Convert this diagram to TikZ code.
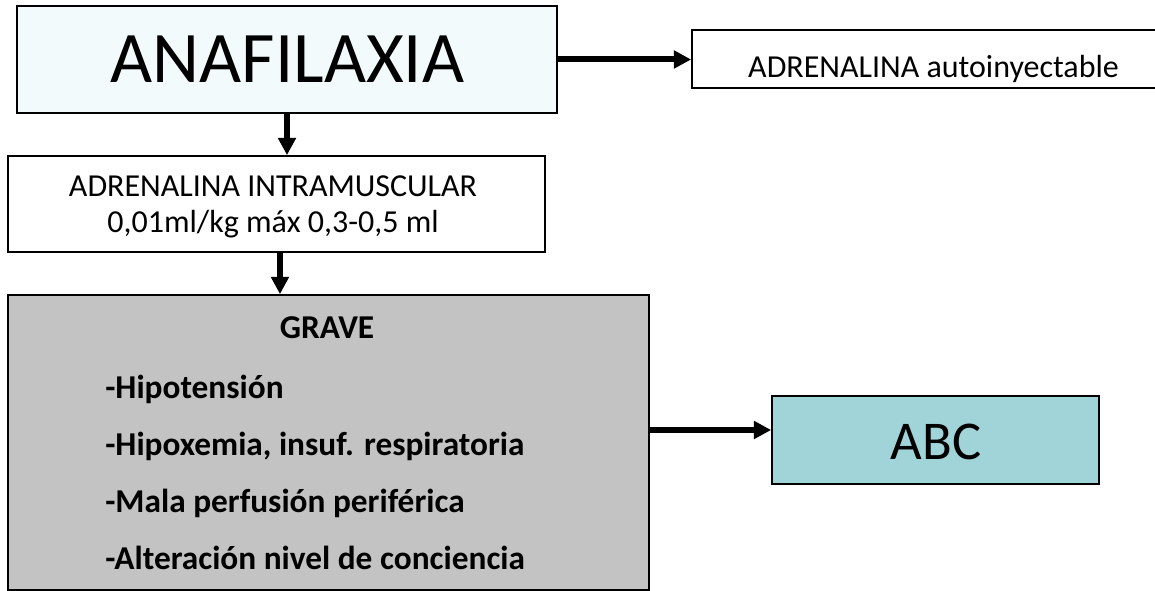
\documentclass[tikz,border=0pt]{standalone}
\usepackage{fontspec}
\setmainfont{Carlito}
\usetikzlibrary{arrows.meta}
\definecolor{anafill}{HTML}{F2FAFC}
\definecolor{gravefill}{HTML}{C3C3C3}
\definecolor{abcfill}{HTML}{A0D4D8}
\tikzset{
  boxs/.style={draw=black, line width=1.3pt, inner sep=0pt, align=center, text=black},
  harr/.style={line width=4.5pt, -{Triangle[length=13pt,width=13pt]}},
  varr/.style={line width=3.8pt, -{Triangle[length=13pt,width=13pt]}},
  txt/.style={anchor=base, inner sep=0pt, font=\fontsize{24}{28}\selectfont},
  item/.style={anchor=base west, inner sep=0pt, font=\fontsize{25}{30}\selectfont\bfseries},
}
\begin{document}
\begin{tikzpicture}[x=0.75pt,y=-0.75pt]
\useasboundingbox (0,0) rectangle (1155,591);
\node[boxs, fill=anafill, minimum width={540*0.75pt}, minimum height={107*0.75pt}] (anaf) at (287,59.5) {};
\node[txt, font=\fontsize{54.5}{60}\selectfont] (anaft) at (287.5,83) {ANAFILAXIA};
\node[boxs, fill=white, minimum width={466*0.75pt}, minimum height={58*0.75pt}] (auto) at (925,59) {};
\node[txt] (autot) at (933.5,78) {ADRENALINA autoinyectable};
\node[boxs, fill=white, minimum width={537*0.75pt}, minimum height={96*0.75pt}] (im) at (276.5,204) {};
\node[txt] (im1) at (273,197) {ADRENALINA INTRAMUSCULAR};
\node[txt] (im2) at (273,233) {0,01ml/kg máx 0,3-0,5 ml};
\node[boxs, fill=gravefill, minimum width={641*0.75pt}, minimum height={295*0.75pt}] (grave) at (328.5,442.5) {};
\node[boxs, fill=abcfill, minimum width={327*0.75pt}, minimum height={88*0.75pt}] (abc) at (935.5,440) {};
\node[txt, font=\fontsize{41}{48}\selectfont] (abct) at (936,459) {ABC};
\node[item, anchor=base] (t0) at (327,338) {GRAVE};
\node[item] (t1) at (105,398) {-Hipotensión};
\node[item] (t2) at (105,455) {-Hipoxemia, insuf. respiratoria};
\node[item] (t3) at (105,512) {-Mala perfusión periférica};
\node[item] (t4) at (105,569) {-Alteración nivel de conciencia};
\coordinate (abcin) at ([yshift=7.5pt]abc.west);
\coordinate (imout) at ([xshift=2.6pt]im.south);
\draw[harr] (anaf.east) -- (anaf.east -| auto.west);
\draw[varr] (anaf.south) -- (anaf.south |- im.north);
\draw[varr] (imout) -- (imout |- grave.north);
\draw[harr] (grave.east |- abcin) -- (abcin);
\end{tikzpicture}
\end{document}
